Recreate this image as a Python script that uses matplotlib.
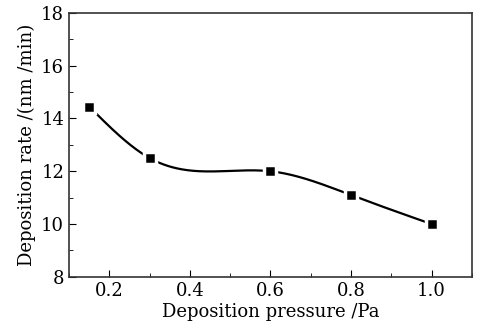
import matplotlib
matplotlib.use("Agg")
import matplotlib.pyplot as plt
import numpy as np
from matplotlib.ticker import MultipleLocator

pressure = [0.15, 0.3, 0.6, 0.8, 1.0]
rate = [14.45, 12.5, 12.0, 11.1, 10.0]


def natural_spline(x, y, xs):
    x = np.asarray(x, float)
    y = np.asarray(y, float)
    n = len(x)
    h = np.diff(x)
    A = np.zeros((n, n))
    r = np.zeros(n)
    A[0, 0] = A[-1, -1] = 1
    for i in range(1, n - 1):
        A[i, i - 1] = h[i - 1]
        A[i, i] = 2 * (h[i - 1] + h[i])
        A[i, i + 1] = h[i]
        r[i] = 6 * ((y[i + 1] - y[i]) / h[i] - (y[i] - y[i - 1]) / h[i - 1])
    m = np.linalg.solve(A, r)
    out = np.empty_like(xs)
    for j, t in enumerate(xs):
        i = min(max(np.searchsorted(x, t) - 1, 0), n - 2)
        a = x[i + 1] - t
        b = t - x[i]
        out[j] = (m[i] * a**3 + m[i + 1] * b**3) / (6 * h[i]) \
            + (y[i] / h[i] - m[i] * h[i] / 6) * a \
            + (y[i + 1] / h[i] - m[i + 1] * h[i] / 6) * b
    return out


plt.rcParams['font.family'] = 'DejaVu Serif'
fig = plt.figure(figsize=(4.83, 3.3), dpi=100)
ax = fig.add_axes([0.143, 0.161, 0.834, 0.8])

xs = np.linspace(pressure[0], pressure[-1], 300)
ax.plot(xs, natural_spline(pressure, rate, xs), color='black', lw=1.6)
ax.plot(pressure, rate, 's', color='black', ms=8, mec='white', mew=2.5)

ax.set_xlim(0.1, 1.1)
ax.set_ylim(8, 18)
ax.xaxis.set_major_locator(MultipleLocator(0.2))
ax.xaxis.set_minor_locator(MultipleLocator(0.1))
ax.yaxis.set_major_locator(MultipleLocator(2))
ax.yaxis.set_minor_locator(MultipleLocator(1))
ax.tick_params(which='both', direction='in', top=False, right=False, labelsize=13)
ax.tick_params(which='major', length=5)
ax.tick_params(which='minor', length=3)
ax.set_xticks([0.2, 0.4, 0.6, 0.8, 1.0])
ax.set_xticklabels(['0.2', '0.4', '0.6', '0.8', '1.0'])
for s in ax.spines.values():
    s.set_linewidth(1.2)
    s.set_color('#333333')

ax.set_xlabel('Deposition pressure /Pa', fontsize=13, labelpad=2)
ax.set_ylabel('Deposition rate /(nm /min)', fontsize=13, labelpad=4)

fig.savefig('out.png', dpi=100)
